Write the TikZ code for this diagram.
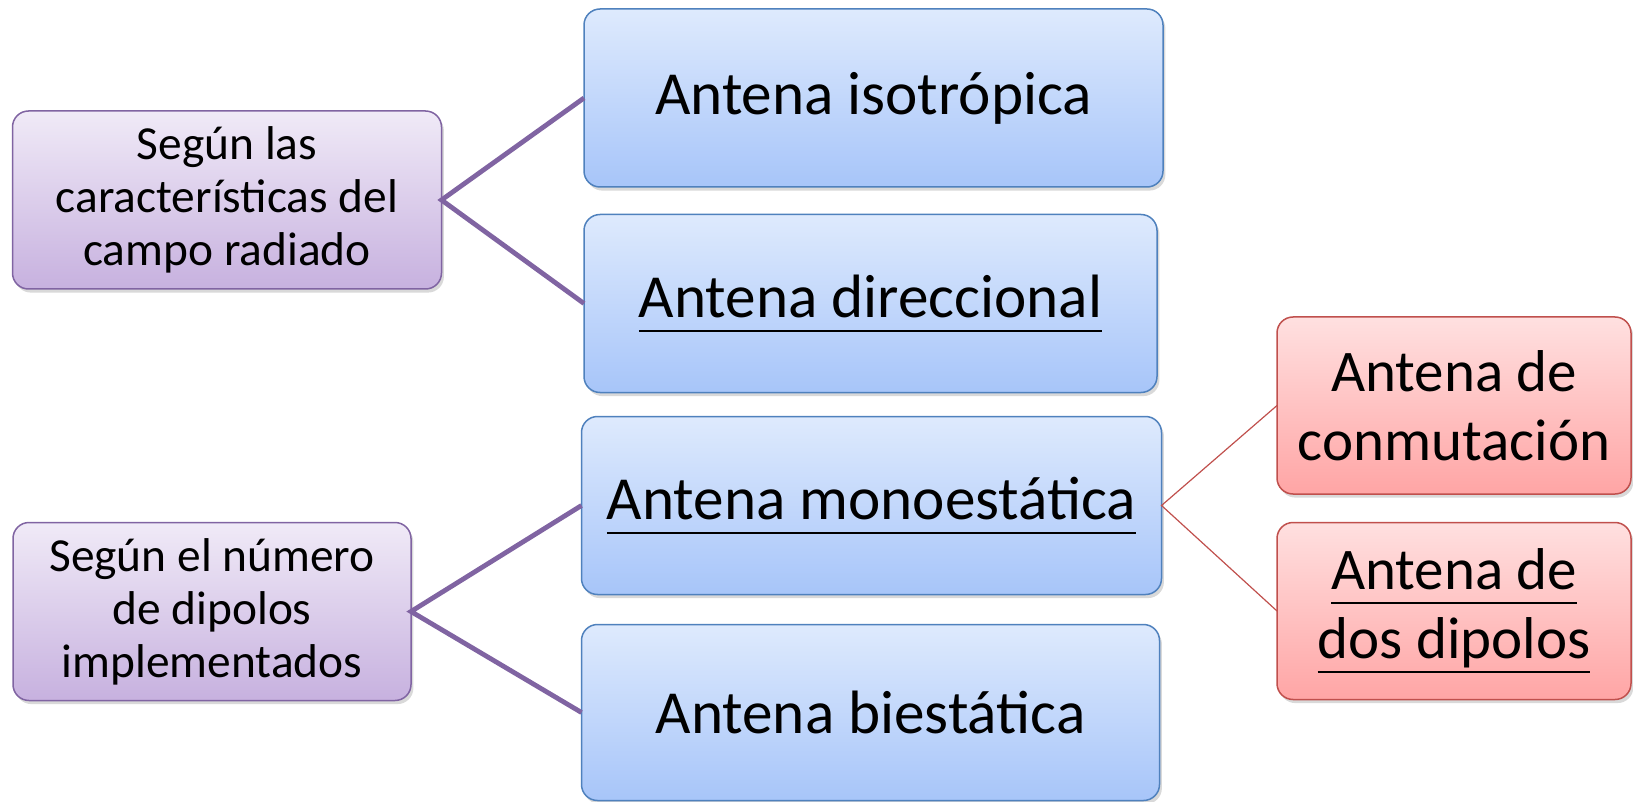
\documentclass[tikz,border=0pt]{standalone}
\usepackage{fontspec}
\setmainfont{Carlito}
\usepackage{tikz}
\usetikzlibrary{shadows}
\newcommand{\undl}[1]{\leavevmode\setbox0\hbox{#1}\rlap{\rule[-0.25em]{\wd0}{1.4pt}}\box0}
\definecolor{bluetop}{HTML}{DEEAFD}
\definecolor{bluebot}{HTML}{A7C5F9}
\definecolor{blueline}{HTML}{4F81BD}
\definecolor{purpletop}{HTML}{F0EAF7}
\definecolor{purplebot}{HTML}{C7B1DF}
\definecolor{purpleline}{HTML}{8064A2}
\definecolor{redtop}{HTML}{FFE0E0}
\definecolor{redbot}{HTML}{FFA5A5}
\definecolor{redline}{HTML}{C0504D}
\tikzset{%
	every box/.style={
		rectangle,
		rounded corners=8pt,
		line width=0.75pt,
		inner sep=0pt,
		outer sep=0pt,
		align=center,
		drop shadow={shadow xshift=1.2pt, shadow yshift=-1.8pt, opacity=0.3}
	},
	group box/.style={
		every box,
		draw=purpleline,
		top color=purpletop,
		bottom color=purplebot,
		font=\fontsize{23.7}{26.5}\selectfont
	},
	type box/.style={
		every box,
		draw=blueline,
		top color=bluetop,
		bottom color=bluebot,
		minimum height=89pt,
		font=\fontsize{30.6}{36}\selectfont
	},
	sub box/.style={
		every box,
		draw=redline,
		top color=redtop,
		bottom color=redbot,
		minimum width=177pt,
		minimum height=88.5pt,
		font=\fontsize{29.5}{34.5}\selectfont
	},
	group link/.style={
		draw=purpleline,
		line width=2.4pt
	},
	sub link/.style={
		draw=redline,
		line width=0.6pt
	},
}
\begin{document}
\begin{tikzpicture}[x=0.5pt, y=-0.5pt]
			\useasboundingbox (0,0) rectangle (1633,802);
			
			% Left column: grouping criteria
			\node[group box, minimum width=214.5pt, minimum height=89pt] (campo) at (227,200)
				{Según las\\características del\\campo radiado};
			\node[group box, minimum width=199pt, minimum height=89pt] (dipolos) at (212,611.5)
				{Según el número\\de dipolos\\implementados};
			
			% Middle column: antenna types
			\node[type box, minimum width=289.5pt] (isotropica) at (873.5,98) {Antena isotrópica};
			\node[type box, minimum width=286.5pt] (direccional) at (870.5,303.5) {\undl{Antena direccional}};
			\node[type box, minimum width=290pt] (monoestatica) at (871.5,505.5) {\undl{Antena monoestática}};
			\node[type box, minimum width=289pt, minimum height=88pt] (biestatica) at (870.5,712.5) {Antena biestática};
			
			% Right column: monostatic variants
			\node[sub box] (conmutacion) at (1454,405.5) {Antena de\\conmutación};
			\node[sub box] (dosdipolos) at (1454,611) {\undl{Antena de}\\\undl{dos dipolos}};
			
			% Draw the links
			\draw[group link] (isotropica.west) -- (campo.east) -- (direccional.west);
			\draw[group link] (monoestatica.west) -- (dipolos.east) -- (biestatica.west);
			\draw[sub link] (conmutacion.west) -- (monoestatica.east) -- (dosdipolos.west);
			
		\end{tikzpicture}
\end{document}
